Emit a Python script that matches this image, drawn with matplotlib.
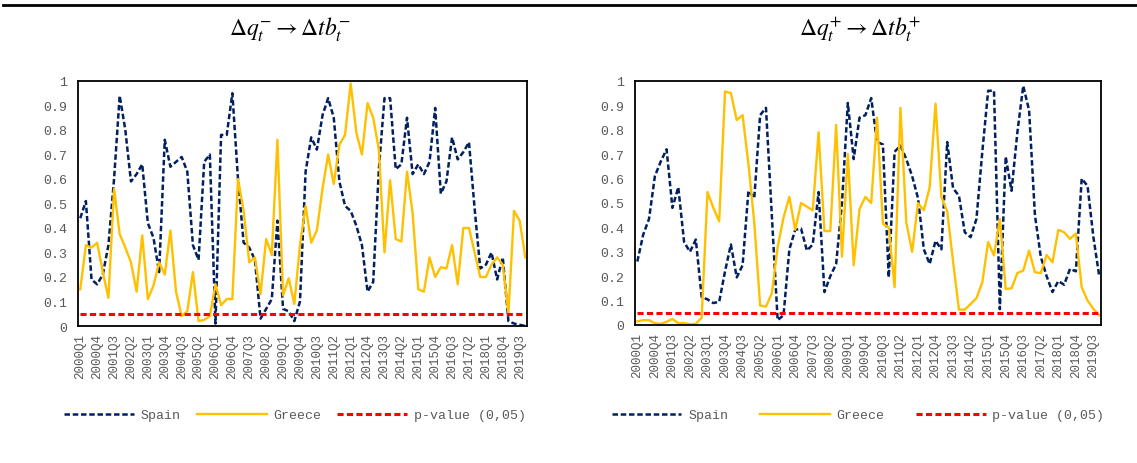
import matplotlib
matplotlib.use("Agg")
import matplotlib.pyplot as plt
from matplotlib.lines import Line2D

# ---------------- data ----------------
quarters = [f"{y}Q{q}" for y in range(2000, 2020) for q in range(1, 5)]

spain_neg = [0.44, 0.51, 0.19, 0.17, 0.21, 0.33, 0.60, 0.94, 0.80, 0.59,
             0.62, 0.66, 0.42, 0.36, 0.22, 0.76, 0.65, 0.67, 0.69, 0.63,
             0.33, 0.27, 0.67, 0.70, 0.01, 0.78, 0.78, 0.95, 0.60, 0.34,
             0.32, 0.27, 0.03, 0.07, 0.11, 0.43, 0.07, 0.06, 0.02, 0.10,
             0.63, 0.77, 0.72, 0.86, 0.93, 0.85, 0.59, 0.49, 0.47, 0.41,
             0.33, 0.14, 0.18, 0.64, 0.93, 0.93, 0.64, 0.66, 0.85, 0.62,
             0.66, 0.62, 0.67, 0.89, 0.54, 0.59, 0.77, 0.68, 0.71, 0.75,
             0.48, 0.235, 0.25, 0.30, 0.19, 0.28, 0.02, 0.01, 0.005, 0.0]

greece_neg = [0.15, 0.33, 0.32, 0.34, 0.22, 0.115, 0.56, 0.375, 0.32, 0.26,
              0.14, 0.37, 0.11, 0.165, 0.26, 0.21, 0.39, 0.14, 0.04, 0.06,
              0.22, 0.02, 0.025, 0.04, 0.17, 0.085, 0.11, 0.11, 0.60, 0.47,
              0.26, 0.28, 0.13, 0.355, 0.29, 0.76, 0.125, 0.195, 0.09, 0.33,
              0.49, 0.34, 0.39, 0.56, 0.70, 0.58, 0.74, 0.78, 0.99, 0.79,
              0.70, 0.91, 0.85, 0.72, 0.30, 0.595, 0.355, 0.345, 0.63, 0.46,
              0.15, 0.14, 0.28, 0.20, 0.24, 0.235, 0.33, 0.17, 0.40, 0.40,
              0.30, 0.20, 0.20, 0.25, 0.28, 0.25, 0.05, 0.47, 0.43, 0.28]

spain_pos = [0.26, 0.37, 0.435, 0.61, 0.67, 0.72, 0.48, 0.565, 0.34, 0.30,
             0.35, 0.115, 0.105, 0.09, 0.095, 0.22, 0.33, 0.195, 0.245, 0.55,
             0.52, 0.86, 0.89, 0.45, 0.02, 0.04, 0.31, 0.39, 0.395, 0.305,
             0.33, 0.545, 0.135, 0.20, 0.25, 0.50, 0.91, 0.68, 0.85, 0.86,
             0.93, 0.75, 0.74, 0.195, 0.71, 0.735, 0.68, 0.61, 0.52, 0.31,
             0.25, 0.345, 0.31, 0.75, 0.56, 0.53, 0.38, 0.36, 0.435, 0.71,
             0.96, 0.96, 0.065, 0.69, 0.55, 0.79, 0.98, 0.88, 0.45, 0.28,
             0.20, 0.135, 0.18, 0.165, 0.23, 0.22, 0.60, 0.57, 0.36, 0.20]

greece_pos = [0.015, 0.02, 0.02, 0.007, 0.005, 0.013, 0.025, 0.007, 0.008, 0.003,
              0.005, 0.03, 0.545, 0.48, 0.425, 0.957, 0.95, 0.84, 0.86, 0.66,
              0.42, 0.08, 0.075, 0.13, 0.32, 0.44, 0.525, 0.39, 0.50, 0.485,
              0.47, 0.79, 0.385, 0.385, 0.82, 0.28, 0.70, 0.245, 0.475, 0.525,
              0.50, 0.85, 0.415, 0.40, 0.155, 0.89, 0.42, 0.30, 0.50, 0.47,
              0.565, 0.907, 0.525, 0.465, 0.26, 0.063, 0.063, 0.086, 0.11, 0.175,
              0.34, 0.285, 0.435, 0.148, 0.15, 0.213, 0.223, 0.305, 0.216, 0.213,
              0.287, 0.257, 0.39, 0.38, 0.353, 0.375, 0.155, 0.10, 0.066, 0.04]

p_value = [0.05] * len(quarters)

titles = [r"$\mathit{\Delta q_t^{-} \rightarrow \Delta tb_t^{-}}$",
          r"$\mathit{\Delta q_t^{+} \rightarrow \Delta tb_t^{+}}$"]
series_names = ["Spain", "Greece", "p-value (0,05)"]
yticks = [0, 0.1, 0.2, 0.3, 0.4, 0.5, 0.6, 0.7, 0.8, 0.9, 1]
ytick_labels = ["0", "0.1", "0.2", "0.3", "0.4", "0.5", "0.6", "0.7", "0.8", "0.9", "1"]

# ---------------- style ----------------
plt.rcParams["mathtext.fontset"] = "stix"
MONO = "Liberation Mono"
GRAY = "#595959"
NAVY = "#002060"
GOLD = "#FFC000"
RED = "#FF0000"

W, H = 1137, 464
fig = plt.figure(figsize=(W / 100, H / 100), dpi=100)

def px_axes(x0, x1, ytop, ybot):
    return fig.add_axes([x0 / W, 1 - ybot / H, (x1 - x0) / W, (ybot - ytop) / H])

axes = [px_axes(78, 527, 82, 327), px_axes(635, 1101, 82, 326)]
panels = [(spain_neg, greece_neg), (spain_pos, greece_pos)]
title_x = [290, 860]
legend_cx = [295, 858]
col_spacing = [1.2, 2.4]

x = list(range(len(quarters)))
for k, ax in enumerate(axes):
    sp, gr = panels[k]
    l1, = ax.plot(x, sp, color=NAVY, lw=1.8, dashes=(2.2, 1.1), label=series_names[0])
    l2, = ax.plot(x, gr, color=GOLD, lw=1.7, label=series_names[1])
    l3, = ax.plot(x, p_value, color=RED, lw=2.2, dashes=(2.0, 1.1), label=series_names[2])
    ax.set_xlim(-0.4, 79.3)
    ax.set_ylim(0, 1)
    ax.set_yticks(yticks)
    ax.set_yticklabels(ytick_labels, fontfamily=MONO, fontsize=9.5, color=GRAY)
    ax.set_xticks(x[::3])
    ax.set_xticklabels(quarters[::3], rotation=90, fontfamily=MONO, fontsize=9, color=GRAY)
    ax.tick_params(axis="y", length=0, pad=8)
    ax.tick_params(axis="x", length=0, pad=5)
    for s in ax.spines.values():
        s.set_color("black")
        s.set_linewidth(1.3)
    fig.text(title_x[k] / W, 1 - 30 / H, titles[k], ha="center", va="center", fontsize=17)
    leg = fig.legend(handles=[l1, l2, l3], loc="center", ncol=3,
                     bbox_to_anchor=(legend_cx[k] / W, 1 - 416 / H),
                     frameon=False, handlelength=5.3, handletextpad=0.5,
                     columnspacing=col_spacing[k],
                     prop={"family": MONO, "size": 9.5})
    for t in leg.get_texts():
        t.set_color(GRAY)

fig.add_artist(Line2D([0.003, 1.0], [1 - 6 / H, 1 - 6 / H], transform=fig.transFigure,
                      color="black", lw=2))

fig.savefig("out.png", dpi=100)
